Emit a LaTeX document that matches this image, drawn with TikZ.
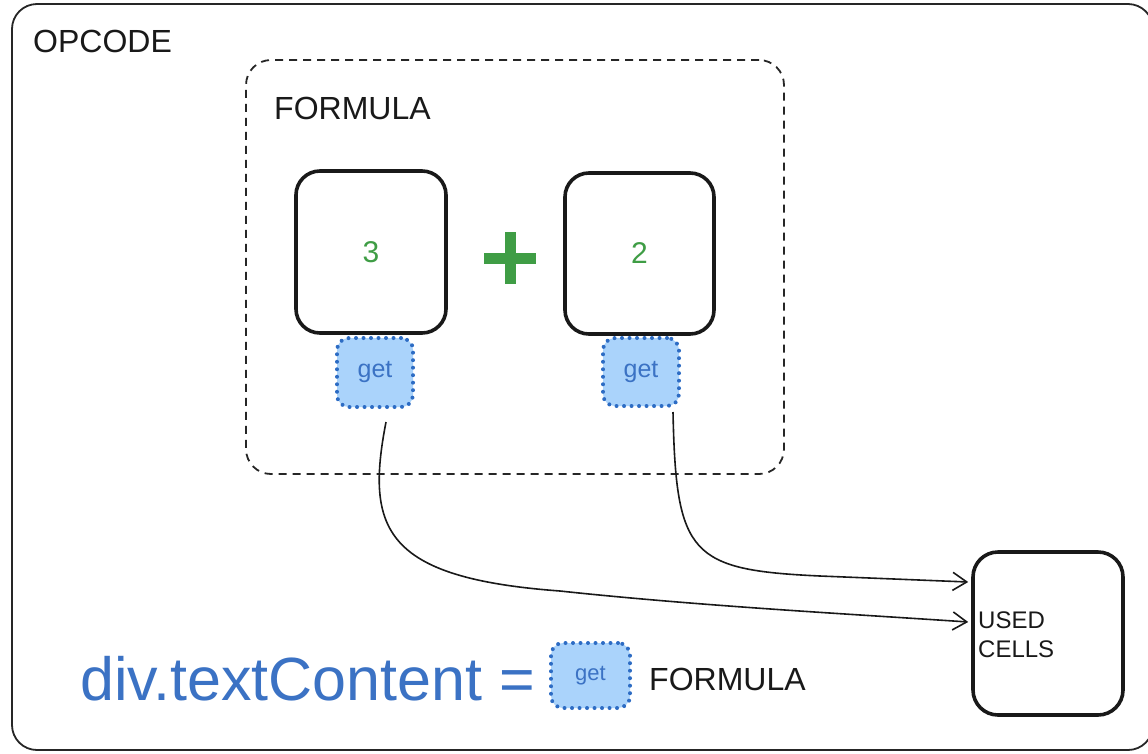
\documentclass[tikz,border=0pt]{standalone}
\usepackage{fontspec}
\setmainfont{Liberation Sans}
\usetikzlibrary{arrows.meta}
\definecolor{inkblue}{HTML}{3B72C4}
\definecolor{dotblue}{HTML}{2D6CC4}
\definecolor{getfill}{HTML}{AAD3FB}
\definecolor{numgreen}{HTML}{3F9D45}
\tikzset{
  frame/.style={draw=black!85, line width=1.8pt, rounded corners=25pt},
  groupbox/.style={draw=black!85, line width=1.8pt, rounded corners=25pt,
    dash pattern=on 8pt off 6pt},
  cell/.style={draw=black!90, line width=3.6pt, rounded corners=24pt,
    text=numgreen, font=\fontsize{30}{32}\selectfont},
  getbox/.style={draw=dotblue, fill=getfill, line width=4pt, line cap=round,
    dash pattern=on 0pt off 7.5pt, rounded corners=12pt, text=inkblue,
    font=\fontsize{25}{27}\selectfont, inner sep=0pt},
  label/.style={font=\fontsize{32}{34}\selectfont, text=black!90, inner sep=0pt},
  bigblue/.style={font=\fontsize{61}{63}\selectfont, text=inkblue,
    anchor=base west, inner sep=0pt},
  link/.style={draw=black!90, line width=1.6pt,
    -{Straight Barb[length=14pt,width=18pt,line width=1.6pt]}}
}
\begin{document}
\begin{tikzpicture}[x=1pt, y=-1pt]
  \clip (0,0) rectangle (1148,753);
  \fill[white] (0,0) rectangle (1148,753);

  % outer opcode frame (its right side runs past the edge)
  \draw[frame] (12,4) rectangle (1153,750);
  \node[label, anchor=base west] (opcodelabel) at (33,52) {OPCODE};

  % formula group
  \node[groupbox, minimum width=538pt, minimum height=414pt] (formula) at (515,267) {};
  \node[label, anchor=base west] (formulalabel) at (274,119) {FORMULA};

  % operand cells
  \node[cell, minimum width=150pt, minimum height=162pt] (cellA) at (371,252) {3};
  \node[cell, minimum width=149pt, minimum height=161pt] (cellB) at (639.5,253.5) {2};

  % plus sign
  \fill[numgreen] (484,253) rectangle (536,264);
  \fill[numgreen] (504.5,232) rectangle (515.5,284);

  % getters
  \node[getbox, minimum width=76pt, minimum height=69pt] (getA) at (375,372.5) {get};
  \node[getbox, minimum width=76pt, minimum height=68pt] (getB) at (641,372) {get};

  % used cells
  \node[draw=black!90, line width=3.6pt, rounded corners=25pt,
    minimum width=150pt, minimum height=163pt] (used) at (1048,633.5) {};
  \node[font=\fontsize{24}{29}\selectfont, align=left, anchor=base west,
    inner sep=0pt, text=black!90] (usedlabel) at (978,657) {USED\\CELLS};

  % connectors
  \draw[link] ([xshift=11pt,yshift=-13pt]getA.south)
    .. controls (365,530) and (385,578) .. (560,591)
    .. controls (700,606) and (850,614) .. ([xshift=-3pt,yshift=11.5pt]used.west);
  \draw[link] ([xshift=-8pt,yshift=-4pt]getB.south east)
    .. controls (676,555) and (690,570) .. (820,576)
    -- ([xshift=-3pt,yshift=51.5pt]used.west);

  % bottom legend
  \node[bigblue] (expr) at (80,700) {div.textContent};
  \node[bigblue] (equals) at (499,700) {=};
  \node[getbox, minimum width=79pt, minimum height=65pt,
    font=\fontsize{22}{24}\selectfont] (getC) at (590.5,675.5) {get};
  \node[label, anchor=base west] (formulaC) at (649,690) {FORMULA};
\end{tikzpicture}
\end{document}
